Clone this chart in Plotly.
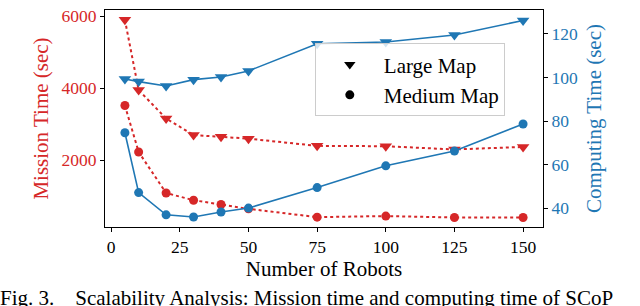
import plotly.graph_objects as go

robots = [5, 10, 20, 30, 40, 50, 75, 100, 125, 150]
mission_large = [5900, 3950, 3160, 2700, 2650, 2600, 2400, 2390, 2300, 2370]
mission_medium = [3520, 2230, 1090, 890, 770, 650, 420, 450, 410, 410]
compute_large = [99.3, 98.1, 96.1, 99.0, 100.2, 103.0, 115.5, 116.3, 119.5, 126.2]
compute_medium = [74.6, 47.1, 36.9, 35.9, 38.2, 40.0, 49.4, 59.4, 66.2, 78.6]

x_ticks = [0, 25, 50, 75, 100, 125, 150]
left_ticks = [2000, 4000, 6000]
right_ticks = [40, 60, 80, 100, 120]

RED = "#d62728"
BLUE = "#1f77b4"
FONT = "Liberation Serif"
TICK = 17.5
LAB = 21

fig = go.Figure()

fig.add_trace(go.Scatter(x=robots, y=mission_large, mode="lines+markers",
                         line=dict(color=RED, width=2, dash="dot"),
                         marker=dict(symbol="triangle-down", size=11, color=RED),
                         showlegend=False, yaxis="y"))
fig.add_trace(go.Scatter(x=robots, y=mission_medium, mode="lines+markers",
                         line=dict(color=RED, width=2, dash="dot"),
                         marker=dict(symbol="circle", size=9, color=RED),
                         showlegend=False, yaxis="y"))
fig.add_trace(go.Scatter(x=robots, y=compute_large, mode="lines+markers",
                         line=dict(color=BLUE, width=1.6),
                         marker=dict(symbol="triangle-down", size=11, color=BLUE),
                         showlegend=False, yaxis="y2"))
fig.add_trace(go.Scatter(x=robots, y=compute_medium, mode="lines+markers",
                         line=dict(color=BLUE, width=1.6),
                         marker=dict(symbol="circle", size=9, color=BLUE),
                         showlegend=False, yaxis="y2"))

# legend proxies
fig.add_trace(go.Scatter(x=[None], y=[None], mode="markers", name="Large Map",
                         marker=dict(symbol="triangle-down", size=10, color="black")))
fig.add_trace(go.Scatter(x=[None], y=[None], mode="markers", name="Medium Map",
                         marker=dict(symbol="circle", size=9, color="black")))

fig.update_layout(
    width=640, height=306,
    margin=dict(l=105, r=97, t=10, b=79),
    paper_bgcolor="white", plot_bgcolor="white",
    font=dict(family=FONT, size=TICK, color="black"),
    xaxis=dict(range=[-2.25, 157.25], tickvals=x_ticks, ticks="outside", ticklen=4,
               tickcolor="black", showline=True, linecolor="black", linewidth=1,
               mirror=True, showgrid=False, zeroline=False, automargin=False,
               tickfont=dict(family=FONT, size=TICK, color="black"),
               title=dict(text="Number of Robots", font=dict(family=FONT, size=LAB),
                          standoff=4)),
    yaxis=dict(range=[146, 6174], tickvals=left_ticks, ticks="outside", ticklen=4,
               tickcolor="black", showline=True, linecolor="black", linewidth=1,
               showgrid=False, zeroline=False, automargin=False,
               tickfont=dict(family=FONT, size=TICK, color=RED),
               title=dict(text="Mission Time (sec)", font=dict(family=FONT, size=LAB, color=RED),
                          standoff=7)),
    yaxis2=dict(range=[31.3, 131], tickvals=right_ticks, ticks="outside", ticklen=4,
                tickcolor="black", showline=True, linecolor="black", linewidth=1,
                overlaying="y", side="right", showgrid=False, zeroline=False,
                automargin=False,
                tickfont=dict(family=FONT, size=TICK, color=BLUE),
                title=dict(text="Computing Time (sec)", font=dict(family=FONT, size=LAB, color=BLUE),
                           standoff=9)),
    legend=dict(x=0.479, y=0.846, xanchor="left", yanchor="top",
                bgcolor="rgba(255,255,255,0.8)", bordercolor="#cccccc", borderwidth=1,
                font=dict(family=FONT, size=LAB, color="black"),
                itemwidth=58, tracegroupgap=0),
    annotations=[dict(text="Fig. 3.&nbsp;&nbsp;&nbsp;&nbsp;Scalability Analysis: Mission time and computing time of SCoP",
                      xref="paper", yref="paper", x=-0.244, y=-0.262,
                      xanchor="left", yanchor="top", showarrow=False,
                      font=dict(family=FONT, size=LAB, color="black"))],
)

fig.write_html("out.html", config={"displayModeBar": False})

# remove the browser's default page margin so the figure sits at the window origin
with open("out.html", "r", encoding="utf-8") as f:
    html = f.read()
html = html.replace("<head>", "<head><style>html,body{margin:0;padding:0;overflow:hidden;}</style>", 1)
with open("out.html", "w", encoding="utf-8") as f:
    f.write(html)
